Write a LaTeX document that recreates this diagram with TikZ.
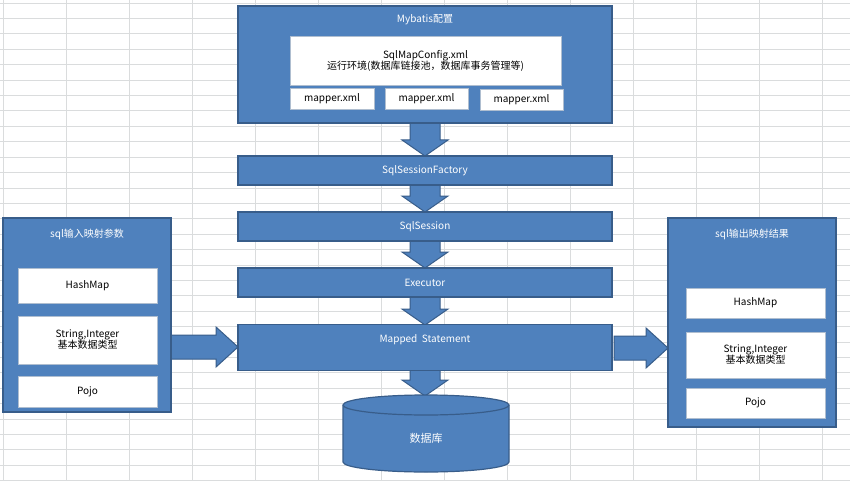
\documentclass[tikz,border=0pt]{standalone}
\usepackage{fontspec}
\setmainfont{Noto Sans CJK SC}
\definecolor{bfill}{HTML}{4F81BD}
\definecolor{bdraw}{HTML}{385D8A}
\definecolor{gridc}{HTML}{DADCDD}
\tikzset{
 bluebox/.style={draw=bdraw,fill=bfill,line width=1.2pt,text=white},
 whitebox/.style={draw=bdraw!40,fill=white,text=black,line width=0.4pt},
 bigarrow/.style={draw=bdraw,fill=bfill,line width=1pt,line join=miter},
 lbl/.style={font=\fontsize{10}{12}\selectfont}
}
% vertical arrow: x, ytop, ybottom
\newcommand{\myvarrow}[3]{\draw[bigarrow] (#1-15,#2) -- (#1+15,#2) -- (#1+15,#3-16) -- (#1+23,#3-16) -- (#1,#3) -- (#1-23,#3-16) -- (#1-15,#3-16) -- cycle;}
% horizontal arrow: y, xleft, xright
\newcommand{\myharrow}[3]{\draw[bigarrow] (#2,#1-12) -- (#3-22,#1-12) -- (#3-22,#1-20) -- (#3,#1) -- (#3-22,#1+20) -- (#3-22,#1+12) -- (#2,#1+12) -- cycle;}
\begin{document}
\begin{tikzpicture}[x=1pt,y=-1pt]
\useasboundingbox (0,0) rectangle (850,481);
\fill[white] (0,0) rectangle (850,481);
\foreach \i in {0,...,31} \draw[gridc,line width=0.6pt] (0,{3+15.4*\i}) -- (850,{3+15.4*\i});
\foreach \i in {0,...,13} \draw[gridc,line width=0.6pt] ({3+63*\i},0) -- ({3+63*\i},481);
% arrows first (behind boxes)
\myvarrow{425}{123}{156}
\myvarrow{425}{185}{212}
\myvarrow{425}{241}{268}
\myvarrow{425}{297}{325}
\myvarrow{425}{370}{396}
\myharrow{347}{171}{238}
\myharrow{348}{614}{668}
% top config
\draw[bluebox] (238,6) rectangle (612,123);
\node[lbl,text=white] (cfgt) at (425,20) {Mybatis配置};
\node[whitebox,minimum width=271pt,minimum height=49pt,align=center,lbl,inner sep=0pt] (cfg) at (425.5,60.5) {SqlMapConfig.xml\\[-1pt]运行环境(数据库链接池，数据库事务管理等)};
\node[whitebox,minimum width=84pt,minimum height=21pt,lbl,inner sep=0pt] (m1) at (332,98.5) {mapper.xml};
\node[whitebox,minimum width=83pt,minimum height=21pt,lbl,inner sep=0pt] (m2) at (426.5,98.5) {mapper.xml};
\node[whitebox,minimum width=83pt,minimum height=21pt,lbl,inner sep=0pt] (m3) at (521.5,99.5) {mapper.xml};
% chain
\node[bluebox,minimum width=374pt,minimum height=29pt,lbl,inner sep=0pt] (fac) at (425,170.5) {SqlSessionFactory};
\node[bluebox,minimum width=374pt,minimum height=29pt,lbl,inner sep=0pt] (ses) at (425,226.5) {SqlSession};
\node[bluebox,minimum width=374pt,minimum height=29pt,lbl,inner sep=0pt] (exe) at (425,282.5) {Executor};
\node[bluebox,minimum width=374pt,minimum height=46pt,inner sep=0pt,anchor=north] (ms) at (425,324) {};
\node[lbl,text=white] at (425,340) {Mapped\ \ Statement};
% database cylinder
\draw[bluebox] (343,405) -- (343,462) arc[start angle=180,end angle=360,x radius=83,y radius=-10] -- (509,405) arc[start angle=0,end angle=180,x radius=83,y radius=-10] -- cycle;
\draw[bdraw,line width=1.2pt] (343,405) arc[start angle=180,end angle=360,x radius=83,y radius=-10];
\node[lbl,text=white,font=\fontsize{11}{13}\selectfont] (db) at (426,438) {数据库};
% left
\draw[bluebox] (3,218) rectangle (171,412);
\node[lbl,text=white] (lt) at (87,234) {sql输入映射参数};
\node[whitebox,minimum width=139pt,minimum height=35pt,lbl,inner sep=0pt] (lh) at (87.5,285.5) {HashMap};
\node[whitebox,minimum width=139pt,minimum height=48pt,lbl,inner sep=0pt,align=center] (ls) at (87.5,340) {String,Integer\\[-1pt]基本数据类型};
\node[whitebox,minimum width=139pt,minimum height=31pt,lbl,inner sep=0pt] (lp) at (87.5,391.5) {Pojo};
% right
\draw[bluebox] (668,218) rectangle (836,427);
\node[lbl,text=white] (rt) at (752,234) {sql输出映射结果};
\node[whitebox,minimum width=139pt,minimum height=30pt,lbl,inner sep=0pt] (rh) at (755.5,303) {HashMap};
\node[whitebox,minimum width=139pt,minimum height=46pt,lbl,inner sep=0pt,align=center] (rs) at (755.5,355) {String,Integer\\[-1pt]基本数据类型};
\node[whitebox,minimum width=139pt,minimum height=30pt,lbl,inner sep=0pt] (rp) at (755.5,403) {Pojo};
\end{tikzpicture}
\end{document}
